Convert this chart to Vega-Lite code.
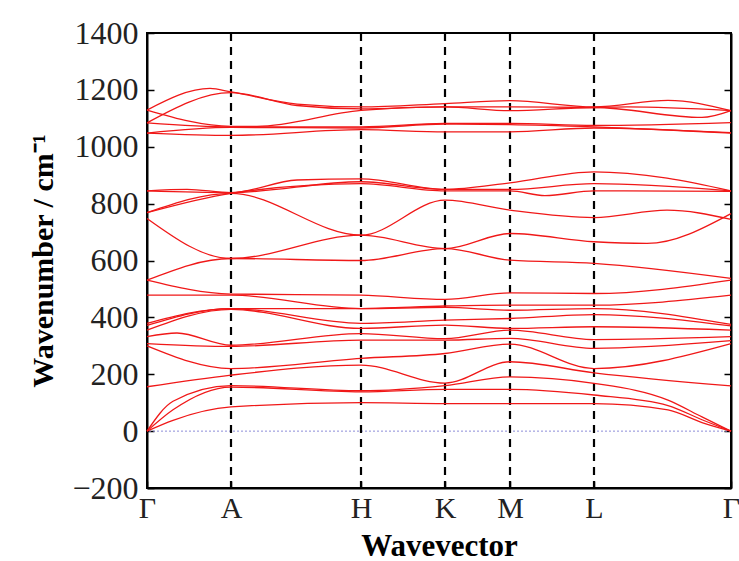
{
  "$schema": "https://vega.github.io/schema/vega-lite/v6.json",
  "width": 584,
  "height": 455,
  "autosize": {"type": "none"},
  "padding": {"left": 147, "top": 33, "right": 8, "bottom": 73},
  "background": "white",
  "config": {
    "view": {"stroke": "black", "strokeWidth": 2},
    "font": "Liberation Serif",
    "axis": {"domainColor": "black", "domainWidth": 2, "tickColor": "black", "tickWidth": 1.5, "labelColor": "#222", "titleColor": "black", "grid": false}
  },
  "datasets": {
    "bands": [
      {"b":"H1","x":0,"v":1129},{"b":"H1","x":63,"v":1205},{"b":"H1","x":84,"v":1193},{"b":"H1","x":150,"v":1150},{"b":"H1","x":214,"v":1140},{"b":"H1","x":298,"v":1152},{"b":"H1","x":363,"v":1162},{"b":"H1","x":447,"v":1140},{"b":"H1","x":521,"v":1163},{"b":"H1","x":584,"v":1127},
      {"b":"H2","x":0,"v":1084},{"b":"H2","x":84,"v":1190},{"b":"H2","x":150,"v":1145},{"b":"H2","x":214,"v":1133},{"b":"H2","x":298,"v":1140},{"b":"H2","x":363,"v":1140},{"b":"H2","x":447,"v":1138},{"b":"H2","x":480,"v":1140},{"b":"H2","x":584,"v":1127},
      {"b":"H3","x":0,"v":1129},{"b":"H3","x":84,"v":1072},{"b":"H3","x":110,"v":1072},{"b":"H3","x":214,"v":1128},{"b":"H3","x":298,"v":1140},{"b":"H3","x":363,"v":1127},{"b":"H3","x":447,"v":1138},{"b":"H3","x":555,"v":1103},{"b":"H3","x":584,"v":1127},
      {"b":"H4","x":0,"v":1084},{"b":"H4","x":84,"v":1070},{"b":"H4","x":214,"v":1070},{"b":"H4","x":298,"v":1082},{"b":"H4","x":363,"v":1082},{"b":"H4","x":447,"v":1075},{"b":"H4","x":584,"v":1085},
      {"b":"H5","x":0,"v":1048},{"b":"H5","x":84,"v":1068},{"b":"H5","x":214,"v":1066},{"b":"H5","x":298,"v":1080},{"b":"H5","x":363,"v":1078},{"b":"H5","x":447,"v":1070},{"b":"H5","x":584,"v":1050},
      {"b":"H6","x":0,"v":1048},{"b":"H6","x":84,"v":1040},{"b":"H6","x":214,"v":1060},{"b":"H6","x":298,"v":1052},{"b":"H6","x":363,"v":1052},{"b":"H6","x":447,"v":1066},{"b":"H6","x":584,"v":1048},
      {"b":"B1","x":0,"v":845},{"b":"B1","x":40,"v":850},{"b":"B1","x":84,"v":839},{"b":"B1","x":150,"v":883},{"b":"B1","x":214,"v":887},{"b":"B1","x":298,"v":850},{"b":"B1","x":363,"v":873},{"b":"B1","x":447,"v":912},{"b":"B1","x":520,"v":890},{"b":"B1","x":584,"v":845},
      {"b":"B2","x":0,"v":845},{"b":"B2","x":84,"v":839},{"b":"B2","x":214,"v":877},{"b":"B2","x":298,"v":850},{"b":"B2","x":363,"v":850},{"b":"B2","x":447,"v":870},{"b":"B2","x":584,"v":845},
      {"b":"B3","x":0,"v":768},{"b":"B3","x":84,"v":836},{"b":"B3","x":214,"v":870},{"b":"B3","x":298,"v":845},{"b":"B3","x":363,"v":845},{"b":"B3","x":398,"v":828},{"b":"B3","x":447,"v":845},{"b":"B3","x":584,"v":843},
      {"b":"B4","x":0,"v":768},{"b":"B4","x":84,"v":836},{"b":"B4","x":214,"v":689},{"b":"B4","x":298,"v":812},{"b":"B4","x":363,"v":777},{"b":"B4","x":447,"v":751},{"b":"B4","x":520,"v":777},{"b":"B4","x":584,"v":745},
      {"b":"B5","x":0,"v":748},{"b":"B5","x":84,"v":607},{"b":"B5","x":214,"v":689},{"b":"B5","x":298,"v":642},{"b":"B5","x":363,"v":695},{"b":"B5","x":447,"v":666},{"b":"B5","x":500,"v":660},{"b":"B5","x":584,"v":765},
      {"b":"B6","x":0,"v":531},{"b":"B6","x":84,"v":607},{"b":"B6","x":214,"v":600},{"b":"B6","x":298,"v":642},{"b":"B6","x":363,"v":601},{"b":"B6","x":447,"v":590},{"b":"B6","x":584,"v":537},
      {"b":"L1","x":0,"v":531},{"b":"L1","x":84,"v":482},{"b":"L1","x":214,"v":478},{"b":"L1","x":298,"v":463},{"b":"L1","x":363,"v":486},{"b":"L1","x":447,"v":484},{"b":"L1","x":584,"v":531},
      {"b":"L2","x":0,"v":478},{"b":"L2","x":84,"v":478},{"b":"L2","x":214,"v":431},{"b":"L2","x":298,"v":440},{"b":"L2","x":363,"v":443},{"b":"L2","x":447,"v":443},{"b":"L2","x":584,"v":478},
      {"b":"L3","x":0,"v":379},{"b":"L3","x":84,"v":431},{"b":"L3","x":214,"v":431},{"b":"L3","x":298,"v":435},{"b":"L3","x":363,"v":425},{"b":"L3","x":447,"v":431},{"b":"L3","x":584,"v":375},
      {"b":"L4","x":0,"v":372},{"b":"L4","x":84,"v":431},{"b":"L4","x":214,"v":379},{"b":"L4","x":298,"v":390},{"b":"L4","x":363,"v":396},{"b":"L4","x":447,"v":410},{"b":"L4","x":584,"v":370},
      {"b":"L5","x":0,"v":355},{"b":"L5","x":84,"v":428},{"b":"L5","x":214,"v":361},{"b":"L5","x":298,"v":373},{"b":"L5","x":363,"v":361},{"b":"L5","x":447,"v":367},{"b":"L5","x":584,"v":355},
      {"b":"L6","x":0,"v":332},{"b":"L6","x":30,"v":345},{"b":"L6","x":84,"v":302},{"b":"L6","x":214,"v":343},{"b":"L6","x":298,"v":325},{"b":"L6","x":363,"v":355},{"b":"L6","x":447,"v":322},{"b":"L6","x":584,"v":332},
      {"b":"L7","x":0,"v":308},{"b":"L7","x":84,"v":298},{"b":"L7","x":214,"v":320},{"b":"L7","x":298,"v":320},{"b":"L7","x":363,"v":326},{"b":"L7","x":447,"v":291},{"b":"L7","x":584,"v":318},
      {"b":"L8","x":0,"v":300},{"b":"L8","x":84,"v":220},{"b":"L8","x":214,"v":256},{"b":"L8","x":298,"v":273},{"b":"L8","x":363,"v":306},{"b":"L8","x":447,"v":220},{"b":"L8","x":584,"v":308},
      {"b":"L9","x":0,"v":156},{"b":"L9","x":84,"v":197},{"b":"L9","x":214,"v":232},{"b":"L9","x":298,"v":169},{"b":"L9","x":363,"v":244},{"b":"L9","x":447,"v":205},{"b":"L9","x":584,"v":159},
      {"b":"L10","x":0,"v":0},{"b":"L10","x":26,"v":105},{"b":"L10","x":84,"v":160},{"b":"L10","x":214,"v":142},{"b":"L10","x":298,"v":160},{"b":"L10","x":363,"v":191},{"b":"L10","x":447,"v":168},{"b":"L10","x":521,"v":109},{"b":"L10","x":555,"v":50},{"b":"L10","x":584,"v":0},
      {"b":"L11","x":0,"v":0},{"b":"L11","x":26,"v":75},{"b":"L11","x":84,"v":155},{"b":"L11","x":214,"v":138},{"b":"L11","x":298,"v":147},{"b":"L11","x":363,"v":147},{"b":"L11","x":447,"v":127},{"b":"L11","x":521,"v":90},{"b":"L11","x":555,"v":40},{"b":"L11","x":584,"v":0},
      {"b":"L12","x":0,"v":0},{"b":"L12","x":26,"v":38},{"b":"L12","x":84,"v":85},{"b":"L12","x":214,"v":100},{"b":"L12","x":298,"v":97},{"b":"L12","x":363,"v":97},{"b":"L12","x":447,"v":97},{"b":"L12","x":521,"v":75},{"b":"L12","x":555,"v":30},{"b":"L12","x":584,"v":0}
    ],
    "kpoints": [{"x":84},{"x":214},{"x":298},{"x":363},{"x":447}],
    "zero": [{"v":0}]
  },
  "layer": [
    {
      "data": {"name": "zero"},
      "mark": {"type": "rule", "color": "#8c8cd8", "strokeWidth": 1, "strokeDash": [2, 2]},
      "encoding": {
        "y": {"field": "v", "type": "quantitative", "scale": {"domain": [-200, 1400], "nice": false},
          "axis": {"orient": "right", "labels": false, "title": null, "tickSize": -7, "values": [-200,0,200,400,600,800,1000,1200,1400]}}
      }
    },
    {
      "data": {"name": "kpoints"},
      "mark": {"type": "rule", "color": "black", "strokeWidth": 2.2, "strokeDash": [8, 6]},
      "encoding": {
        "x": {"field": "x", "type": "quantitative", "scale": {"domain": [0, 584], "nice": false, "zero": false},
          "axis": {"title": "Wavevector", "titleFont": "Liberation Serif", "titleFontWeight": "bold", "titleFontSize": 31, "titlePadding": 8,
            "values": [0,84,214,298,363,447,584], "labelExpr": "datum.value==0||datum.value==584?'Γ':datum.value==84?'A':datum.value==214?'H':datum.value==298?'K':datum.value==363?'M':'L'",
            "labelFontSize": 30, "labelFont": "Liberation Serif", "tickSize": -7, "labelPadding": 12, "labelFlush": false, "labelOverlap": false}}
      }
    },
    {
      "data": {"name": "bands"},
      "mark": {"type": "line", "color": "#f01818", "strokeWidth": 1.3, "interpolate": "monotone"},
      "encoding": {
        "x": {"field": "x", "type": "quantitative", "scale": {"domain": [0, 584], "nice": false, "zero": false},
          "axis": {"title": "Wavevector", "titleFont": "Liberation Serif", "titleFontWeight": "bold", "titleFontSize": 31, "titlePadding": 8,
            "values": [0,84,214,298,363,447,584], "labelExpr": "datum.value==0||datum.value==584?'Γ':datum.value==84?'A':datum.value==214?'H':datum.value==298?'K':datum.value==363?'M':'L'",
            "labelFontSize": 30, "labelFont": "Liberation Serif", "tickSize": -7, "labelPadding": 12, "labelFlush": false, "labelOverlap": false}},
        "y": {"field": "v", "type": "quantitative", "scale": {"domain": [-200, 1400], "nice": false},
          "axis": {"title": "Wavenumber / cm⁻¹", "titleFont": "Liberation Serif", "titleFontWeight": "bold", "titleFontSize": 30, "titlePadding": 13, "format": "d",
            "values": [-200,0,200,400,600,800,1000,1200,1400], "labelFontSize": 32, "labelFont": "Liberation Serif", "tickSize": -7, "labelPadding": 16}},
        "detail": {"field": "b", "type": "nominal"},
        "order": {"field": "x", "type": "quantitative"}
      }
    }
  ],
  "resolve": {"axis": {"y": "independent"}}
}
